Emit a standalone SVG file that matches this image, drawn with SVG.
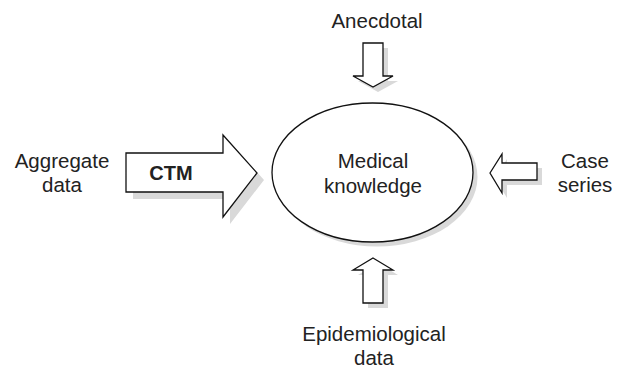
<svg xmlns="http://www.w3.org/2000/svg" width="622" height="371" viewBox="0 0 622 371">
<style>
.lbl{font-family:"Liberation Sans",Arial,sans-serif;font-size:20.5px;fill:#222;text-anchor:middle}
.bold{font-weight:bold;font-size:20px}
.shape{fill:#fff;stroke:#111;stroke-width:1.3;stroke-linejoin:miter}
.shadow{fill:#d9d9d9;stroke:none}
</style>
<rect width="622" height="371" fill="#fff"/>
<g id="connectors">
  <g id="ctm-arrow">
    <polygon class="shadow" points="133,160 230,160 230,142 264,180 230,224 230,199 133,199"/>
    <polygon class="shape" points="126,153 223,153 223,135 257,173 223,217 223,192 126,192"/>
    <text class="lbl bold" x="171" y="180">CTM</text>
  </g>
  <g id="anecdotal-arrow">
    <polygon class="shadow" points="368,48 388,48 388,81 398,81 378,92 358,81 368,81"/>
    <polygon class="shape" points="363,43 383,43 383,76 393,76 373,87 353,76 363,76"/>
  </g>
  <g id="epi-arrow">
    <polygon class="shadow" points="378,263 398,275 388,275 388,308 368,308 368,275 358,275"/>
    <polygon class="shape" points="373,258 393,270 383,270 383,303 363,303 363,270 353,270"/>
  </g>
  <g id="case-arrow">
    <polygon class="shadow" points="495,178 507,159 507,168 542,168 542,185 507,185 507,198"/>
    <polygon class="shape" points="490,173 502,154 502,163 537,163 537,180 502,180 502,193"/>
  </g>
</g>
<g id="node-medical">
  <ellipse class="shadow" cx="377" cy="177" rx="100.5" ry="69.5"/>
  <ellipse class="shape" cx="372.5" cy="172.5" rx="100.5" ry="69.5"/>
  <text class="lbl" x="373" y="168">Medical</text>
  <text class="lbl" x="373" y="193">knowledge</text>
</g>
<g id="node-anecdotal">
  <text class="lbl" x="377" y="28">Anecdotal</text>
</g>
<g id="node-aggregate">
  <text class="lbl" x="62" y="168">Aggregate</text>
  <text class="lbl" x="62" y="192">data</text>
</g>
<g id="node-case">
  <text class="lbl" x="585" y="168">Case</text>
  <text class="lbl" x="585" y="192">series</text>
</g>
<g id="node-epi">
  <text class="lbl" x="374" y="341">Epidemiological</text>
  <text class="lbl" x="374" y="365">data</text>
</g>
</svg>
